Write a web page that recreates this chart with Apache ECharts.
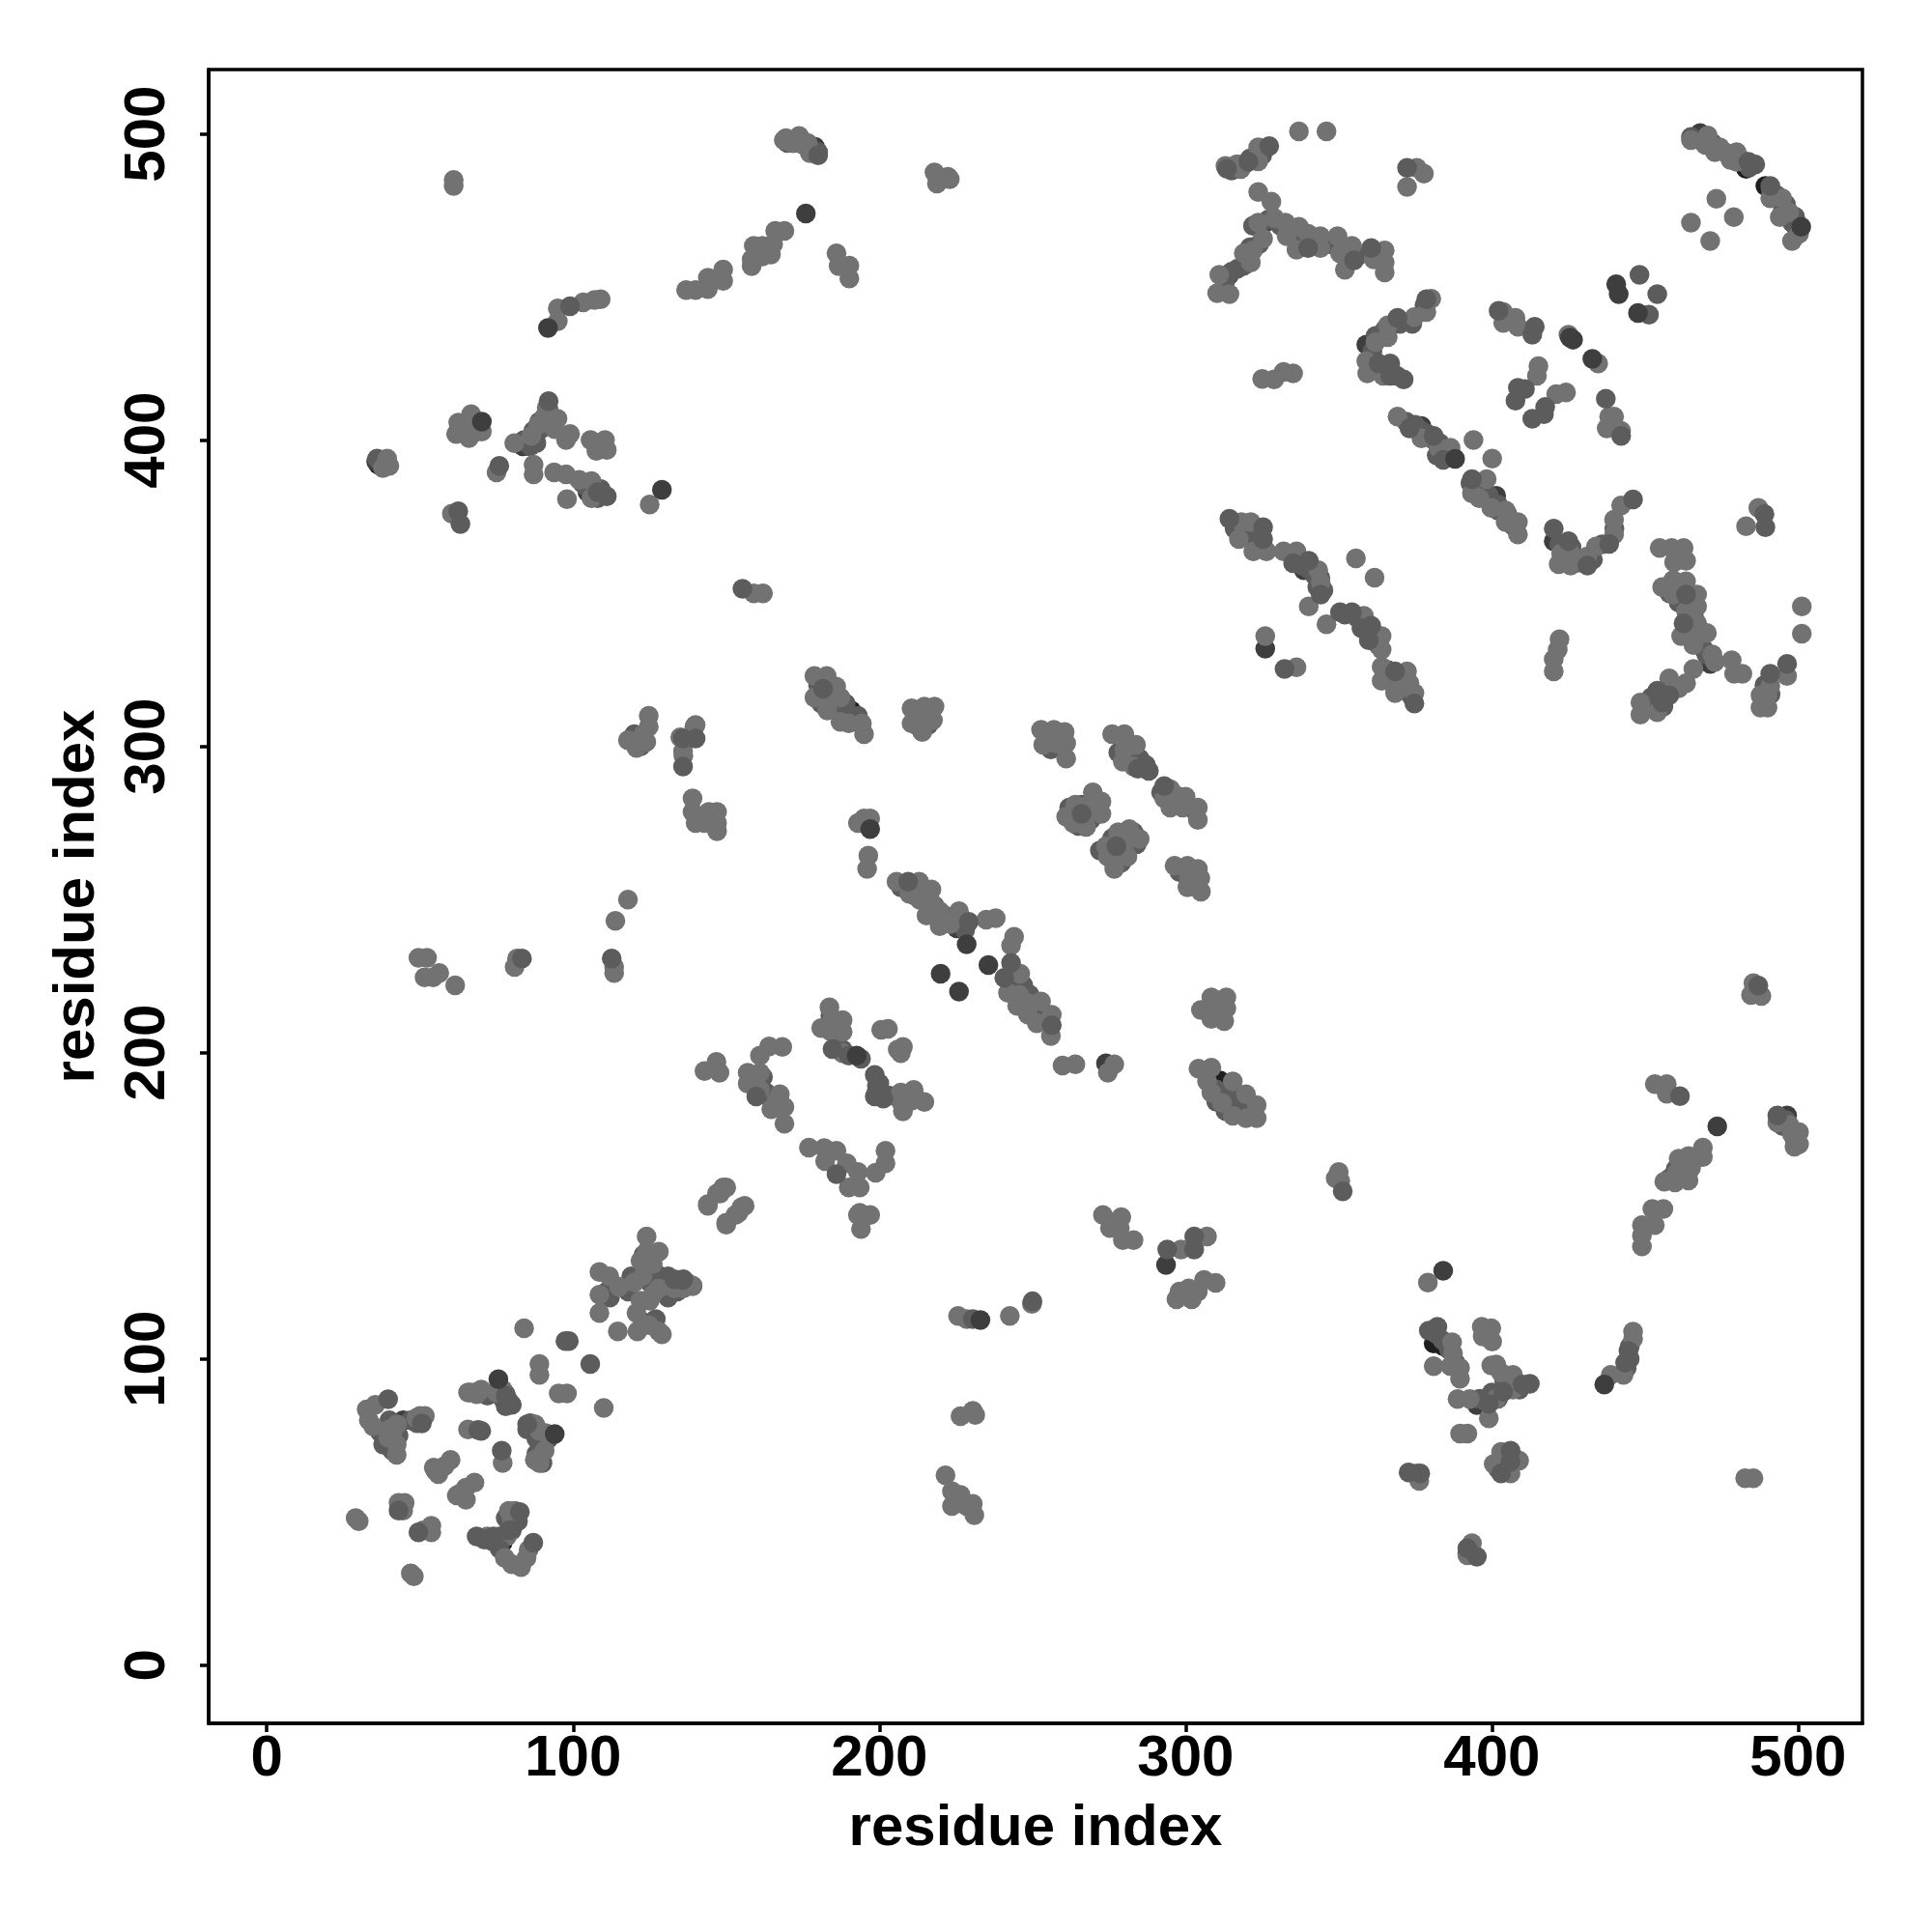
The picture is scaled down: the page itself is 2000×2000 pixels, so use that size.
<!DOCTYPE html>
<html><head><meta charset="utf-8">
<script src="https://cdn.jsdelivr.net/npm/echarts@6/dist/echarts.min.js"></script>
<style>html,body{margin:0;padding:0;background:#fff}#c{width:2000px;height:2000px}</style>
</head><body><div id="c"></div>
<script>
const tickValues=[0,100,200,300,400,500];
const axisTitle="residue index";
const blackPoints=[[190.8,311.7],[311.2,190.9],[384.1,104.2],[381,105],[392,36.5],[39,78],[77,40],[36.4,392],[186,311.7],[483,488.6],[489.3,483]];
const underDarkPoints=[[80,45],[44.5,80],[83.6,398],[35.7,393],[104.7,383],[225.3,240.6],[274,196.5],[179,495.8],[314.3,454],[359,431.2],[468,500.3],[377,404.6],[401.4,381.8],[420.2,367],[471.3,326.9],[338.6,357.5],[326,331.9],[496.4,179.5],[293.6,130.7],[326,471],[395.1,84.9]];
const underMidPoints=[
[37,76],[38,72],[41,74],[43,75],[47,80],[49,79],[41,70],[40,80],[78,48],[80,44],[76,42],[71,41],[74,42],[82,47],[79,44],[76,38],[68,89],[72,88],[77,87],[80,85],[78,84.5],[76,91],[78,88.5],[85,77],[86,79],[88,74],[90,73],[92,74],[88,69],[90,66],
[112,120],[118,122],[119,127],[125,125],[123,112],[127,113],[123,134],[127,128],[131,120],[134,122],[137,125],[131,127],[111,122],
[180,320],[181,314],[184,317],[186,313],[188,310],[191,308],[193,310],[182,320],[185,315],[189,314],[212,311],[216,309],[212,307],[216,307],[255,303],[258,303],[256,299],[281,301],[282,296],[285,296],[278,298],[288,292],
[296,283],[298,282],[294,285],[292,285],[303,279],[262,280],[266,281],[270,283],[271,279],[269,276],[265,274],[265,278],[276,270],[279,270],[283,272],[276,263],[279,262],[278,266],[284,268],[272,266],[298,259],[302,258],[303,255],[301,256],
[207,254],[211,253],[214,252],[212,251],[216,251],[218,248],[221,245],[222,243],[224,243],[228,240],[244,222],[247,222],[249,219],[251,214],[253,212],[255,211],[247,217],[250,213],
[158,191],[163,187],[165,184],[161,190],[167,182],[162,192],[184,212],[186,209],[186,202],[188,201],[194,198],[199,187],[200,190],[203,186],[209,185],[212,185],[208,183],
[310,188],[313,186],[317,183],[318,181],[310,184],[313,181],[316,187],[321,180],[382,108],[384,106],[386,103],[388,99],[396,87],[398,86],[403,89],[405,91],[408,92],[402,87],[400,89],[404,93],[409,90],
[465,499],[468,498],[472,497],[476,494],[481,492],[484,489],[486,490],[491,482],[493,480],[496,477],[498,471],[499,470],[495,475],[499,473],
[85,399],[87,403],[88,402],[89,406],[90,404],[92,410],[84,400],[86,398],[88,399],[104,385],[106,383],[108,381],[109,384],[103,386],[37,393],[38,392],[36,394],[64,404],[68,405],[67,402],[69,404],[170,497],[172,497],[174,498],[177,495],[178,494],[180,494],
[315,488],[317,490],[319,490],[321,492],[325,493],[322,470],[327,472],[331,470],[335,467],[338,465],[341,464],[347,464],[351,463],[353,460],[356,460],[313,452],[315,455],[317,456],[319,457],[320,460],[321,463],[324,464],
[361,429],[363,423],[365,423],[367,422],[369,421],[361,424],[362,434],[365,436],[370,438],[374,438],[378,444],[372,406],[375,405],[379,402],[381,400],[383,399],[385,396],[387,395],[382,395],[377,403],[394,385],[397,384],[399,382],[402,379],[405,376],[407,372],[396,384],[393,386],[402,377],
[422,366],[423,362],[426,365],[424,360],[428,360],[431,360],[433,361],[436,366],[440,371],[316,371],[320,371],[322,367],[324,369],[323,365],[326,364],[336,361],[338,359],[340,358],[342,356],[344,355],[345,351],[343,352],[352,343],[356,342],[358,340],[361,337],[362,335],[363,333],
[366,325],[369,322],[371,320],[372,318],[374,316],[367,321],[370,319],[458,350],[461,347],[464,346],[466,342],[464,338],[467,334],[469,332],[465,336],[470,330],[453,315],[456,317],[459,320],[452,316],[456,313],[489,320],[491,317],[489,314],[460,162],[463,163],[466,165],[458,159],[462,160],[445,100],[444,97],[445,104],[495,176],[498,174],[496,178],[499,171],[404,68],[405,65],[407,68],[402,64],[122,300],[120,304]
];
const lightPoints=[
[29,48],[30,47],[47,30],[48,29],[43,53],[45,53],[44.5,50.5],[53.7,45.5],[53.7,43.4],[51,44],[72,42],[78.4,42],[80,47.6],[81,50.4],[79,50.4],[77.7,35],[80,33],[83,32],[84.8,35],[85.5,37.7],
[60,67],[58,65],[54.5,64.5],[56,62.4],[55,63.5],[67.8,59.6],[65,58],[62,55.4],[65,54],[63,56],[32.6,83.5],[35.4,85],[33.3,80],[34.7,78],[40,77],[42.5,78.6],[39.6,74.4],[42.4,72],[42.4,68.7],[41,76],
[50,81.4],[51.6,81.4],[48.8,80.7],[66.4,89],[70,90],[68.5,88.5],[65.7,89],[77,90],[75,89],[65.7,77],[77,66],[87.6,78.6],[89,76.5],[91,75.8],[90.7,70],[89,68],[89,66],[87.5,67],[89,98.3],[89,94.8],[95.3,88.7],[98,88.7],[110,84],[84,110],
[108.6,128.4],[111.8,127],[108.6,121],[115,123.6],[108.6,115],[114.6,109],[121,109],[120.7,115],[122,119],[125,119],[120,125],[122.7,127],[124,135],[124,140],[128,135],[126,131],[124.7,111],[128,109],[129,108],[126,121],[128,123],[133,123],[139,124],[136,123],[122,132],
[144,150.5],[147,154],[149,156],[150,144.5],[153,147],[155,149.5],
[178.8,323],[182.8,323],[178.8,316],[185.9,319.5],[183,311.7],[187.3,316],[187.3,308],[194.3,307.5],[195,304],[190,307.5],[183,315],
[210.5,312.4],[210.5,307.5],[214,304.7],[214.7,313],[218,313],[217.5,308.6],[213.3,308],[215.5,310],
[252.8,305.4],[257,305.4],[253.5,300.5],[260.5,304.7],[261,301],[261,296],[257.7,301],
[276,304],[280,304],[283.8,300.5],[280,299],[279.5,295],[283,293.4],
[295,286],[293,283],[295,280],[297,284],[300,283.6],[299,280],[304,280],[304,276],
[261,277],[264,281],[269.7,285],[272.5,282],[272.5,278],[267.5,277],[263.3,275],[267.5,273.7],[268.5,281],[265,279],
[278,272],[281.6,273],[285,269.8],[274,267.4],[281,264],[276.7,260],[274.6,264],[280,268],[277,264],
[296.4,261],[300.6,261],[304,260],[304.8,257],[300.6,254],[305,252.6],[301,257],
[205.6,255.8],[213,255.8],[209.8,251.9],[217,253.3],[213.3,249.8],[217,249],[215.4,244.8],[219.7,246.2],[219.7,241.3],[223.2,242],[226,246.2],[234.9,243.4],[238,243.9],[244,237.8],[243,235],[246,225.8],[242,219.5],[245.7,218.8],[249.2,216],[252.8,216.7],[245,215.3],[248.5,212.4],[251.4,209.6],[256.3,212.4],[256,205.4],
[259.8,195.8],[264,196.2],[276.7,196.2],[274.6,193.4],[305,213.9],[308.4,218],[313.3,218],[308.4,211],[312.6,210.3],[313.3,214.5],[310,214],
[304.2,194.8],[308.4,195.1],[307,190.6],[308.4,187],[315.4,190.6],[311.9,183.6],[319.7,186.4],[315.4,179.4],[319.7,178.6],[323.2,182.9],[323.2,178.6],
[350,161],[349,159],[350.5,158],
[140,307],[135.9,298.4],[139,283],[139,278.6],[140,275],[147,278.6],[144.3,278.6],[147,275],[147,272.3],[143,275],[193,275],[197,276.5],[195,276.5],[196.4,264.3],[196,260],
[183.7,214.8],[181,208],[184.4,210.3],[188,210.6],[188,206.8],[184,207],[200.6,207.5],[202.8,207.8],[207.7,201.9],[207,199.8],[206,201],[188,199.8],
[207,187],[211.2,187.8],[207.7,180.8],[207,184],[214.7,183.9],[210.5,184.3],[168.3,201.9],[164,202],[161,199],[146.8,197],[142.9,194],[147.8,193.4],
[157,193.4],[161,193.4],[157,189.9],[161,187.8],[167.5,186.4],[169,182.2],[164.7,181.5],[169,176.8],[166.5,184.5],
[177,169],[182,168.8],[186,168],[182.3,164.6],[189.4,163.9],[193,161],[190,156],[193.6,156],[202,168],[202,163.9],[198.8,160.8],
[150,156],[148,154],[144,150],[156,150],[154,147.7],[150,143.8],[193.6,147.7],[197,147],[194,142.4],[193,147],
[273,147],[279,146.3],[275.3,142.7],[283,138.8],[279.5,138.8],[278.5,142.7],[298.5,135.7],[307,140],
[298,122],[301,123],[306,125.8],[309.8,124.8],[302,119.5],[297,119.5],[304,122],[139,123.7],
[225.7,114],[228.5,113],[242.6,114],[226.5,81.3],[230.5,83],[231.3,81.7],[221.6,62],[223.7,56.8],[223.7,52],[226.5,55.6],[228.5,52],[230.5,52.7],[231,49],[249.8,118],
[113.4,228],[113.4,226],[113.8,243],[117.9,250],[49.5,231],[52.3,231],[51.5,224.6],[54.3,224.6],[56.3,226],[61.5,222],[81.7,230.7],[80.9,228],
[117.9,302],[120.7,299.5],[123.9,301.5],[124.7,306.4],[124.7,310],[120,301],[123,304],[136,297],[135,303],[139,303],[139.6,306.4],[159,350],[162,350],
[61,485],[61,483],[169.5,498.6],[173.8,499.3],[168.8,498],[176.6,497],[175,496.5],[177.3,493.7],[171.5,497],[218,487.4],[222.4,486],[218.8,483.8],[223,485.2],
[166,468.3],[169,468.3],[159,463.4],[165.3,464],[161.8,463.4],[158.3,459],[158.3,456.8],[164.6,460.6],[161.8,460],[149,455.7],[149,452],[144,453],[144,449.3],[136.9,449],[140,449],
[186,461],[190.2,457],[186.7,456.8],[190.2,452.8],[109,446],[107,445.8],[103.3,445],[95,443],[95,438.8],
[39.3,394],[37.9,390.9],[40,391.6],[62.5,405.7],[66.7,408.5],[61.8,402],[66,400.7],[70.2,402.8],[65,405],[75,389.5],
[80.8,399],[91.4,410.6],[90.7,407.8],[88.6,405],[86.4,401.4],[87.1,392],[87.1,388.8],[94.9,407],[99,402],[97.7,400],[94,403.6],
[105.7,400],[110.4,400],[111,396.8],[107.6,396.5],[93.8,389.5],[97.7,388.8],[98,380.7],[102,387],[106,386.6],[106,381],[125,379],[60.4,376],
[337,500.8],[346,500.8],[316.6,490],[323.7,491],[323.7,495.6],[313,489.5],[318,488.5],[375.5,488.9],[377.8,487],[372.3,482.7],
[323.7,481],[328,477.9],[323.7,471],[329,472.5],[332.6,471],[337,469.7],[333,466.6],[336.2,462.2],[340,467.4],[344,466.6],[344,462.7],[349.6,466.6],[350.4,461],[354.3,463.4],[352,455.6],[365,461.9],[361.4,459],[365,458],[365,454.8],
[325.3,465.8],[322,461.9],[319,461],[321.3,458],[311,454],[310.3,448],[314.3,447.7],
[380.2,446.2],[378.6,441.8],[374.7,440.2],[366,437.5],[366,433.6],[362,432],[359,425.8],[359.3,421.8],[364.5,421],
[325,420],[328.9,419.8],[332,422.3],[335.1,421.8],[403.7,441.8],[407.7,439.9],[403.7,438.3],[408.5,437],[425,434.4],[434.7,425],[415.2,424.2],[414.7,421],[424.2,415.6],[421,415],[438.3,407.7],[439.9,407.7],[437.5,403.8],[442.2,403],
[465,498],[470.5,499.5],[469.7,496.4],[474.4,495.6],[472.8,494],[479.9,494],[479.9,490.9],[477.9,491.5],[494.8,479],[490.9,479],[497.1,474.4],[494,472.8],[500.3,467.4],[498,465],
[473.3,478.8],[479,472.8],[465,471],[471.3,465],
[369.2,407.7],[377,400.6],[382.6,397.5],[386.5,397.5],[394,400],[400.1,394],[398.3,387.3],[393.5,382.6],[395.9,381],[399.8,377.9],[404.5,377],[404.5,373.2],[408.5,373.2],[408.5,369.2],[405,375],
[425.7,363],[421.8,359.5],[425.7,359],[422.6,363],[431.2,362],[434,365.3],[439.9,369.2],[439.9,374],[442.2,378.7],[487,377.9],[483,371.9],
[454.8,364.8],[458.7,364.8],[462.6,364.8],[459.5,360.1],[463.4,360.6],[455.6,352],[459.2,354.3],[459.2,349.6],[463.4,353.9],[467,349.6],[467,345.7],[463.4,344.1],[467,340.2],[461.8,336],[465.8,333.1],[470.2,337],[467.3,336.3],[472,330],[472.8,327.6],[478.3,328.1],[479.1,323.7],[481.8,323.7],
[465.8,325.3],[463.4,320.6],[457.9,322.2],[454,311.2],[448.5,314.3],[448.5,310.4],[461,319],[496.4,323],[490.9,319.8],[487.7,316.7],[490,316.7],[487.7,312.7],[490,312.7],[501.2,345.7],[501.2,336.8],[422.1,335],[421.5,331.6],[420.2,328.4],[420.2,324.5],
[318.2,373.2],[321.3,373.2],[317.4,367.7],[322.1,363.7],[326.4,363.7],[332,363.7],[336.2,363.7],[343.3,357.5],[344.1,353.5],[340.2,345.7],[346,339.9],[358.2,342.6],[364,336],[364,331.6],[355.6,361.4],[361.7,355.1],[326,336],[336.2,325.8],[364,326],[364,321.4],[372.3,324.5],[368.4,317.4],[373.1,320.6],[374.7,317.4],[370,321],
[485.4,222.7],[484.6,218.8],[488,218.5],[453.2,189.7],[457.1,189.7],[457.1,186.6],[493.2,177.2],[497.1,176.4],[500.3,174],[498,173.3],[498.8,169.3],[500.3,170.1],
[468.9,169],[468.9,165.9],[461,165.4],[464.2,166.2],[465,162.3],[460.3,160.7],[456.3,157.9],[459.8,157.6],[464.2,158.3],[452.4,149],[456,149],[453.2,143.7],[449,143.7],[449,140.3],[449,136.7],
[446.1,108.9],[446.1,106.5],[443,94.8],[438.8,94.8],[379.1,124.9],[387,105.4],[387.3,101.8],[381,97.6],[386.5,97.6],[389.6,97.1],[389.6,93.5],[396.7,110.5],[399.8,110],[397,107.3],[400.1,105.7],
[401.4,98.2],[399.8,97.9],[403,95.5],[406.9,94.8],[406.9,90],[401.4,86.9],[388.8,86.9],[392.8,86.9],[399,80.6],[389.6,75.6],[392,75.6],[375.5,62.6],[376.3,60.2],[403,69.6],[408.9,66.8],[400.6,65.7],[406.1,62.6],[482.7,61],[485.4,61],[393.5,39.8],[392,35.9]
];
const midPoints=[
[43,50.5],[49.5,43.4],[68.5,42],[73.5,40.5],[82.6,50],[87,40],[39.6,86.8],[50.6,78.9],[79,86.3],[78,88],[70,76.5],[69,76.8],[76.7,70],[85,78.6],[98.6,105.8],[97.5,105.8],[105.6,98.3],[133,126],[136,126],
[181.6,318.8],[287,294],[284.4,292.7],[293,287],[266,278],[277.4,267.4],[209.4,255.8],[229.2,242.7],[243,229.3],[240.8,224.4],[256.3,209],[351.3,154.7],
[135.9,302.6],[140,302.6],[135.9,293.4],[184.7,201.2],[190,199],[198.5,192.7],[199.2,189.2],[201.3,185],[198.5,185.7],[159.8,185.7],[186,160.3],[294,135.7],[302.8,135.7],[302.8,140],[250,118.8],[135.8,125.8],[230.5,113],
[112.6,230.7],[83.3,230.7],[155.3,351.5],[180,493],[99,443.7],[75.9,391.6],[92,412.7],[108,383],[111,381.7],[62.5,376.8],[63.2,372.6],
[313.5,488.6],[320.5,490.9],[327.3,496],[372.3,488.9],[340,462.7],[355,458.7],[360.6,462.7],[378.6,446],[369.2,439.9],[363,425],[366.8,425],[366.8,421],[371.2,419.8],
[402.2,442.2],[414,437],[413.2,434.4],[408.5,417.1],[410.8,416.7],[407.7,412.9],[417.4,410.8],[413.2,407],[417,408.5],[437.2,413.5],[442.2,401.4],[448.2,454],[454,447.7],[451.3,441],[483.8,490.9],[490.9,483],
[373.1,403.8],[381,401.4],[384.1,393.6],[393.5,387.3],[420.2,371.1],[425,367],[431.2,359],[438.3,366.1],[446.1,380.6],[489,375.8],[489.3,371.6],[463.4,349.6],[462.6,340.2],[457.9,316.7],[454,318.2],[455.6,314.3],[496.4,326.9],[490.9,323.7],
[314.3,374.3],[325.3,371.6],[325.3,367.7],[335.1,359.8],[340.2,360.6],[344.1,349.6],[350.4,343.8],[354.3,343.8],[357.4,338.6],[360.6,339.4],[359.8,334.7],[332.3,325.3],[368.4,324.5],[374.7,314],
[487,221.9],[461.4,185.8],[493.2,179.5],[444.6,102.6],[443.5,98.7],[379.4,109.2],[382.2,110.5],[412.4,91.9],[410,91.6],[403.7,89.3],[399,85.3],[372.8,62.9],[376.6,62.6],[406.1,70],[403,62.6],[406.1,66.5],[392,38.2],[395.1,35.4]
];
const darkPoints=[
[94,75.5],[75.6,93.4],[176,474],[91.8,436.6],[70.2,406],[129,383.8],
[228.5,235.4],[235.6,228.6],[220,225.8],[226,219.9],[192.6,199],[197,273],[233,112.7],
[426.5,432.8],[425.5,433.5],[432.8,426.5],[440.6,450.9],[441.4,447.7],[447.7,441.5],[501,469.7],[388,393.9],
[473.6,175.9],[436.7,91.6],[384.1,128.8]
];
const chart=echarts.init(document.getElementById('c'),null,{renderer:'canvas'});
const font='Liberation Sans';
const LIGHT='#727272',MID='#5c5c5c';
function axis(isY){
  return {type:'value',min:-19,max:521,splitLine:{show:false},
    name:axisTitle,nameLocation:'middle',nameGap:isY?106:79,
    nameTextStyle:{fontFamily:font,fontWeight:'bold',fontSize:60,color:'#000'},
    axisLine:{show:true,onZero:false,lineStyle:{color:'#000',width:3.5}},
    axisTick:{show:true,length:9,inside:false,lineStyle:{color:'#000',width:3.5},customValues:tickValues},
    axisLabel:{show:true,rotate:isY?90:0,margin:isY?33:7,fontFamily:font,fontWeight:'bold',fontSize:60,color:'#000',customValues:tickValues,formatter:v=>String(v),hideOverlap:false}};
}
function layer(pts,col){return {type:'scatter',data:pts,symbol:'circle',symbolSize:20.5,itemStyle:{color:col,opacity:1},silent:true,animation:false,large:false,progressive:0};}
// interleave the two grey groups so that neither one always lies on top
const mixed=[];
const n=Math.max(lightPoints.length,underMidPoints.length);
for(let i=0;i<n;i++){
  if(i<underMidPoints.length) mixed.push({value:underMidPoints[i],itemStyle:{color:MID}});
  if(i<lightPoints.length) mixed.push({value:lightPoints[i],itemStyle:{color:LIGHT}});
}
chart.setOption({animation:false,backgroundColor:'#fff',
  grid:{left:216,top:72,width:1712,height:1712,show:true,borderColor:'#000',borderWidth:3.5,backgroundColor:'transparent'},
  xAxis:axis(false),yAxis:axis(true),
  series:[layer(blackPoints,'#1e1e1e'),layer(underDarkPoints,'#3e3e3e'),layer(mixed,LIGHT),layer(midPoints,MID),layer(darkPoints,'#3e3e3e')]});
</script></body></html>
